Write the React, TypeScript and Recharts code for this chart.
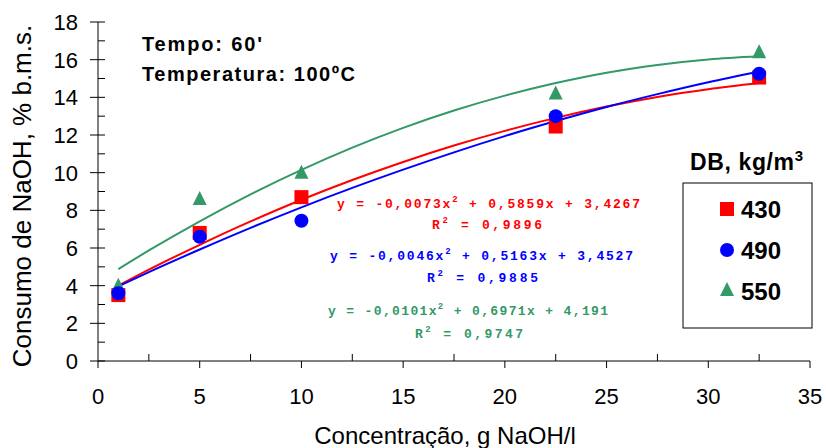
import React from "react"
import { ComposedChart, Line, Scatter, XAxis, YAxis, Customized } from "recharts"

// concentração (g NaOH/l) of the measured points
const conc = [1, 5, 10, 22.5, 32.5]
// consumo de NaOH (% b.m.s.) per DB
const db430 = [3.5, 6.8, 8.7, 12.45, 15.05]
const db490 = [3.6, 6.6, 7.45, 13.0, 15.25]
const db550 = [4.0, 8.6, 10.0, 14.2, 16.4]

// trendlines
const fitX = [1, 2.5, 5, 7.5, 10, 12.5, 15, 17.5, 20, 22.5, 25, 27.5, 30, 32.5]
const fit430 = [4.0, 4.85, 6.17, 7.41, 8.56, 9.61, 10.57, 11.44, 12.22, 12.91, 13.51, 14.02, 14.43, 14.76]
const fit490 = [3.96, 4.72, 5.92, 7.07, 8.16, 9.19, 10.16, 11.08, 11.94, 12.74, 13.49, 14.17, 14.8, 15.37]
const fit550 = [4.88, 5.87, 7.42, 8.85, 10.15, 11.33, 12.38, 13.3, 14.09, 14.76, 15.31, 15.72, 16.01, 16.18]

const xMajor = [0, 5, 10, 15, 20, 25, 30, 35]
const xMinor = [2.5, 7.5, 12.5, 17.5, 22.5, 27.5, 32.5]
const yMajor = [0, 2, 4, 6, 8, 10, 12, 14, 16, 18]
const yMinor = [1, 3, 5, 7, 9, 11, 13, 15, 17]

const RED = "#ff0000"
const BLUE = "#0000ff"
const GREEN = "#339966"
const FONT = "'Liberation Sans', Arial, sans-serif"
const MONO = "'Liberation Mono', 'Courier New', monospace"

const points = (ys: number[]) => conc.map((x, i) => ({ x, y: ys[i] }))
const curve = (ys: number[]) => fitX.map((x, i) => ({ x, y: ys[i] }))

const XTick = (props: any) => {
  const { x, y, payload } = props
  const major = xMajor.includes(payload.value)
  if (!major) return <line x1={x} x2={x} y1={y} y2={y - 7} stroke="#000" />
  return (
    <g>
      <line x1={x} x2={x} y1={y} y2={y + 7} stroke="#000" />
      <text x={x} y={y + 43} textAnchor="middle" fontFamily={FONT} fontSize={22} fill="#000">
        {payload.value}
      </text>
    </g>
  )
}

const YTick = (props: any) => {
  const { x, y, payload } = props
  const major = yMajor.includes(payload.value)
  if (!major) return <line x1={x} x2={x + 7} y1={y} y2={y} stroke="#000" />
  return (
    <g>
      <line x1={x - 8} x2={x + 7} y1={y} y2={y} stroke="#000" />
      <text x={x - 20} y={y + 8} textAnchor="end" fontFamily={FONT} fontSize={22} fill="#000">
        {payload.value}
      </text>
    </g>
  )
}

const Square = (p: any) => <rect x={p.cx - 7} y={p.cy - 7} width={14} height={14} fill={RED} />
const Dot = (p: any) => <circle cx={p.cx} cy={p.cy} r={7} fill={BLUE} />
const Tri = (p: any) => (
  <polygon points={`${p.cx},${p.cy - 8} ${p.cx + 7},${p.cy + 6} ${p.cx - 7},${p.cy + 6}`} fill={GREEN} />
)

const Eq = ({ x, y, w, color, a, b }: any) => (
  <text x={x} y={y} fontFamily={MONO} fontWeight="bold" fontSize={13} fill={color} textLength={w} lengthAdjust="spacing">
    {a}
    <tspan dy={-6} fontSize={9}>2</tspan>
    <tspan dy={6}>{b}</tspan>
  </text>
)

const Notes = () => (
  <g>
    <text x={22} y={196} transform="rotate(-90 22 196)" textAnchor="middle" dominantBaseline="central"
      fontFamily={FONT} fontSize={26} fill="#000">Consumo de NaOH, % b.m.s.</text>
    <text x={445} y={444} textAnchor="middle" fontFamily={FONT} fontSize={24} fill="#000">Concentração, g NaOH/l</text>

    <text x={142} y={51} fontFamily={FONT} fontWeight="bold" fontSize={20} fill="#000" textLength={120} lengthAdjust="spacing">Tempo: 60'</text>
    <text x={142} y={81} fontFamily={FONT} fontWeight="bold" fontSize={20} fill="#000" textLength={213} lengthAdjust="spacing">Temperatura: 100ºC</text>

    <Eq x={337} y={208} w={303} color={RED} a="y = -0,0073x" b=" + 0,5859x + 3,4267" />
    <Eq x={432} y={229} w={110} color={RED} a="R" b=" = 0,9896" />
    <Eq x={330} y={260} w={303} color={BLUE} a="y = -0,0046x" b=" + 0,5163x + 3,4527" />
    <Eq x={427} y={282} w={111} color={BLUE} a="R" b=" = 0,9885" />
    <Eq x={328} y={315} w={280} color={GREEN} a="y = -0,0101x" b=" + 0,6971x + 4,191" />
    <Eq x={415} y={338} w={108} color={GREEN} a="R" b=" = 0,9747" />

    <text x={690} y={170} fontFamily={FONT} fontWeight="bold" fontSize={23} fill="#000" textLength={113} lengthAdjust="spacing">
      DB, kg/m<tspan dy={-9} fontSize={15}>3</tspan>
    </text>
    <rect x={683} y={183} width={129} height={145} fill="#fff" stroke="#000" />
    <rect x={720} y={202} width={14} height={14} fill={RED} />
    <text x={741} y={218} fontFamily={FONT} fontWeight="bold" fontSize={24} fill="#000">430</text>
    <circle cx={727} cy={250} r={7} fill={BLUE} />
    <text x={741} y={259} fontFamily={FONT} fontWeight="bold" fontSize={24} fill="#000">490</text>
    <polygon points="727,282 734,296 720,296" fill={GREEN} />
    <text x={741} y={300} fontFamily={FONT} fontWeight="bold" fontSize={24} fill="#000">550</text>
  </g>
)

export default function App() {
  return (
    <div style={{ position: "absolute", left: 0, top: 0, background: "#fff" }}>
      <ComposedChart width={826} height={448} margin={{ top: 22, right: 16, left: 38, bottom: 27 }}>
        <XAxis dataKey="x" type="number" domain={[0, 35]} ticks={[...xMajor, ...xMinor].sort((a, b) => a - b)}
          interval={0} height={60} tickSize={0} tickMargin={0} tick={<XTick />} stroke="#000" allowDataOverflow />
        <YAxis dataKey="y" type="number" domain={[0, 18]} ticks={[...yMajor, ...yMinor].sort((a, b) => a - b)}
          interval={0} width={60} tickSize={0} tickMargin={0} tick={<YTick />} stroke="#000" allowDataOverflow />
        <Scatter data={points(db430)} shape={<Square />} isAnimationActive={false} />
        <Scatter data={points(db550)} shape={<Tri />} isAnimationActive={false} />
        <Scatter data={points(db490)} shape={<Dot />} isAnimationActive={false} />
        <Line data={curve(fit430)} dataKey="y" type="monotone" stroke={RED} strokeWidth={2} dot={false} isAnimationActive={false} />
        <Line data={curve(fit490)} dataKey="y" type="monotone" stroke={BLUE} strokeWidth={2} dot={false} isAnimationActive={false} />
        <Line data={curve(fit550)} dataKey="y" type="monotone" stroke={GREEN} strokeWidth={2} dot={false} isAnimationActive={false} />
        <Customized component={Notes} />
      </ComposedChart>
    </div>
  )
}
